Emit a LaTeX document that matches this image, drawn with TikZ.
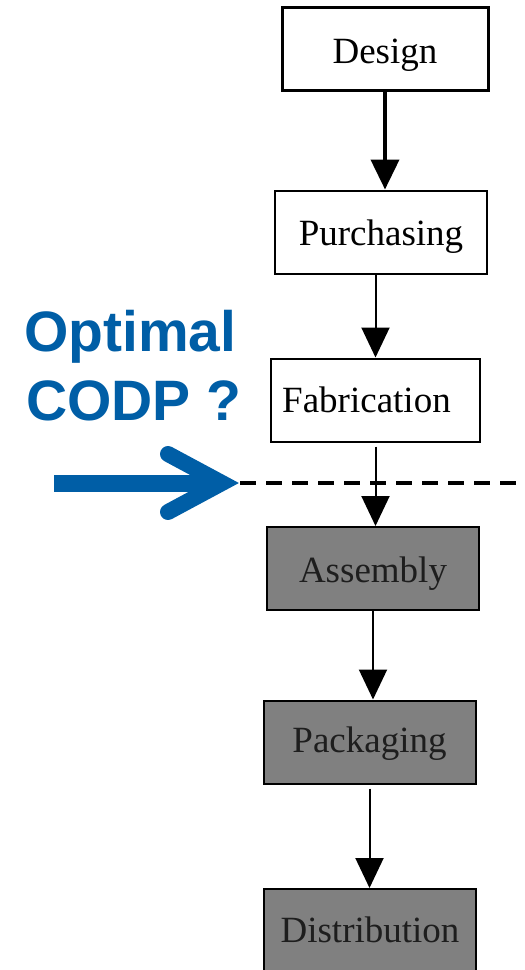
\documentclass[tikz,border=0pt]{standalone}
\usepackage{fontspec}
\setmainfont{Liberation Serif}
\newfontfamily\calloutfont{Liberation Sans}
\usetikzlibrary{arrows.meta}
\definecolor{codpblue}{RGB}{0,94,166}
\definecolor{boxgray}{RGB}{128,128,128}
\definecolor{darktext}{RGB}{30,30,30}

\begin{document}
\begin{tikzpicture}[x=1pt,y=-1pt,
  stage/.style={draw=black, fill=white, line width=2pt, minimum width=212pt,
    minimum height=83pt, inner sep=0pt, text height=30pt, text depth=4pt,
    font=\fontsize{37}{40}\selectfont},
  later/.style={stage, fill=boxgray, text=darktext},
  flow/.style={line width=2pt, -{Triangle[width=28pt,length=30pt]}},
  callout/.style={anchor=base west, inner sep=0pt, text=codpblue,
    font=\calloutfont\bfseries\fontsize{57}{69}\selectfont},
]
\useasboundingbox (0,0) rectangle (525,970);

% process stages, upstream (white) and downstream (grey)
\node[stage, line width=3pt, minimum width=206pt, text depth=2pt] (design) at (385,49) {Design};
\node[stage] (purch) at (381,232) {Purchasing};
\node[stage, minimum width=209pt, text depth=6pt] (fab) at (375.5,400) {Fabrication\kern18pt};
\node[later, text depth=3pt] (assembly) at (373,568.5) {Assembly};
\node[later, text depth=10pt] (pack) at (369.5,742) {Packaging};
\node[later, minimum height=90pt, text depth=14pt] (dist) at (370,934) {Distribution};

% flow arrows
\draw[flow, line width=4pt] (design.south) -- (design.south |- purch.north);
\draw[flow] (fab.north |- purch.south) -- (fab.north);
\draw[flow, shorten <=4pt] (fab.south) -- (fab.south |- assembly.north);
\draw[flow] (assembly.south) -- (assembly.south |- pack.north);
\draw[flow, shorten <=4pt] (pack.south) -- (pack.south |- dist.north);

% decoupling line
\coordinate (cut) at (240,483);
\coordinate (cutend) at (525,483);
\draw[line width=4pt, dash pattern=on 16pt off 10pt] (cut) -- (cutend);

% blue pointer
\coordinate (tail) at (54,483);
\coordinate (neck) at (222,483);
\draw[codpblue, line width=17pt] (tail) -- (neck);
\draw[codpblue, line width=16pt, line cap=round, line join=miter]
  (168,454) -- (neck) -- (168,512);

\node[callout] (opt) at (24,351) {Optimal};
\node[callout] (codp) at (26,420) {CODP ?};
\end{tikzpicture}
\end{document}
